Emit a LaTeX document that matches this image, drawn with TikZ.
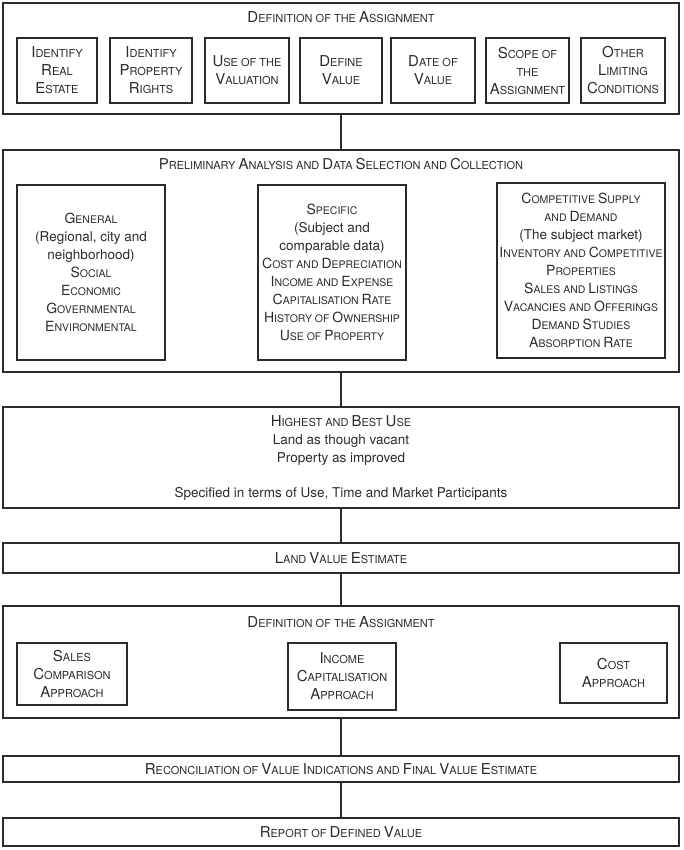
\documentclass[tikz,border=0pt]{standalone}
\usepackage{fontspec}
\setmainfont{TeX Gyre Heros}
\definecolor{ink}{HTML}{2B2B2B}
\newcommand\Bg[1]{{\fontsize{15}{18}\selectfont #1}}
\newcommand\Bs[1]{{\fontsize{14}{18}\selectfont #1}}
\newcommand\Lc[1]{{\fontsize{13.5}{18}\selectfont #1}}
\begin{document}
\begin{tikzpicture}[x=1pt,y=-1pt,
  every node/.style={text=ink},
  frame/.style={draw=ink, line width=1.1pt, inner sep=0pt},
  inbox/.style={draw=ink, line width=1.1pt, inner sep=0pt, align=center,
    font=\fontsize{11}{18}\selectfont},
  midbox/.style={inbox, font=\fontsize{10.5}{18}\selectfont},
  txt/.style={inner sep=0pt, align=center, font=\fontsize{11}{18}\selectfont},
  plain/.style={inner sep=0pt, align=center, font=\fontsize{13.5}{18}\selectfont},
  link/.style={draw=ink, line width=1.1pt}]
\useasboundingbox (0,0) rectangle (683,850);
% Box 1
\node[frame, minimum width=676pt, minimum height=111pt] (A) at (341,58.5) {};
\node[txt] (At) at (341,17) {\Bg{D}EFINITION OF THE \Bg{A}SSIGNMENT};
\node[inbox, minimum width=80pt, minimum height=65pt] (a1) at (57,70.5) {\Bg{I}DENTIFY\\\Bg{R}EAL\\\Bg{E}STATE};
\node[inbox, minimum width=82pt, minimum height=65pt] (a2) at (151,70.5) {\Bg{I}DENTIFY\\\Bg{P}ROPERTY\\\Bg{R}IGHTS};
\node[inbox, minimum width=84pt, minimum height=65pt] (a3) at (247,70.5) {\Bg{U}SE OF THE\\\Bg{V}ALUATION};
\node[inbox, minimum width=82pt, minimum height=65pt] (a4) at (341,70.5) {\Bg{D}EFINE\\\Bg{V}ALUE};
\node[inbox, minimum width=84pt, minimum height=65pt] (a5) at (433,70.5) {\Bg{D}ATE OF\\\Bg{V}ALUE};
\node[inbox, minimum width=83pt, minimum height=65pt] (a6) at (527.5,70.5) {\Bg{S}COPE OF\\THE\\\Bg{A}SSIGNMENT};
\node[inbox, minimum width=84pt, minimum height=65pt] (a7) at (623,70.5) {\Bg{O}THER\\\Bg{L}IMITING\\\Bg{C}ONDITIONS};
% Box 2
\node[frame, minimum width=676pt, minimum height=222pt] (B) at (341,261) {};
\node[txt] (Bt) at (341,164) {\Bg{P}RELIMINARY \Bg{A}NALYSIS AND \Bg{D}ATA \Bg{S}ELECTION AND \Bg{C}OLLECTION};
\node[midbox, minimum width=148pt, minimum height=175pt] (b1) at (91,272.5) {\Bs{G}ENERAL\\\Lc{(Regional, city and}\\\Lc{neighborhood)}\\\Bs{S}OCIAL\\\Bs{E}CONOMIC\\\Bs{G}OVERNMENTAL\\\Bs{E}NVIRONMENTAL};
\node[midbox, minimum width=148pt, minimum height=175pt] (b2) at (332,272.5) {\Bs{S}PECIFIC\\\Lc{(Subject and}\\\Lc{comparable data)}\\\Bs{C}OST AND \Bs{D}EPRECIATION\\\Bs{I}NCOME AND \Bs{E}XPENSE\\\Bs{C}APITALISATION \Bs{R}ATE\\\Bs{H}ISTORY OF \Bs{O}WNERSHIP\\\Bs{U}SE OF \Bs{P}ROPERTY};
\node[midbox, minimum width=168pt, minimum height=175pt] (b3) at (581,270.5) {\Bs{C}OMPETITIVE \Bs{S}UPPLY\\AND \Bs{D}EMAND\\\Lc{(The subject market)}\\\Bs{I}NVENTORY AND \Bs{C}OMPETITIVE\\\Bs{P}ROPERTIES\\\Bs{S}ALES AND \Bs{L}ISTINGS\\\Bs{V}ACANCIES AND \Bs{O}FFERINGS\\\Bs{D}EMAND \Bs{S}TUDIES\\\Bs{A}BSORPTION \Bs{R}ATE};
% Box 3
\node[frame, minimum width=676pt, minimum height=101pt] (C) at (341,457.5) {};
\node[txt] (C1) at (341,421) {\Bg{H}IGHEST AND \Bg{B}EST \Bg{U}SE};
\node[plain] (C2) at (341,441) {Land as though vacant};
\node[plain] (C3) at (341,459) {Property as improved};
\node[plain] (C4) at (341,494) {Specified in terms of Use, Time and Market Participants};
% Box 4
\node[frame, minimum width=676pt, minimum height=30pt] (D) at (341,558) {};
\node[txt] (Dt) at (341,558) {\Bg{L}AND \Bg{V}ALUE \Bg{E}STIMATE};
% Box 5
\node[frame, minimum width=676pt, minimum height=112pt] (E) at (341,662) {};
\node[txt] (Et) at (341,622) {\Bg{D}EFINITION OF THE \Bg{A}SSIGNMENT};
\node[inbox, minimum width=110pt, minimum height=62pt] (e1) at (72,674) {\Bg{S}ALES\\\Bg{C}OMPARISON\\\Bg{A}PPROACH};
\node[inbox, minimum width=108pt, minimum height=67pt] (e2) at (342,676.5) {\Bg{I}NCOME\\\Bg{C}APITALISATION\\\Bg{A}PPROACH};
\node[inbox, minimum width=107pt, minimum height=60pt] (e3) at (613.5,673) {\Bg{C}OST\\\Bg{A}PPROACH};
% Box 6
\node[frame, minimum width=676pt, minimum height=26pt] (F) at (341,769) {};
\node[txt] (Ft) at (341,769) {\Bg{R}ECONCILIATION OF \Bg{V}ALUE \Bg{I}NDICATIONS AND \Bg{F}INAL \Bg{V}ALUE \Bg{E}STIMATE};
% Box 7
\node[frame, minimum width=676pt, minimum height=28pt] (G) at (341,832) {};
\node[txt] (Gt) at (341,832) {\Bg{R}EPORT OF \Bg{D}EFINED \Bg{V}ALUE};
% connectors
\draw[link] (A.south) -- (B.north);
\draw[link] (B.south) -- (C.north);
\draw[link] (C.south) -- (D.north);
\draw[link] (D.south) -- (E.north);
\draw[link] (E.south) -- (F.north);
\draw[link] (F.south) -- (G.north);
\end{tikzpicture}
\end{document}
